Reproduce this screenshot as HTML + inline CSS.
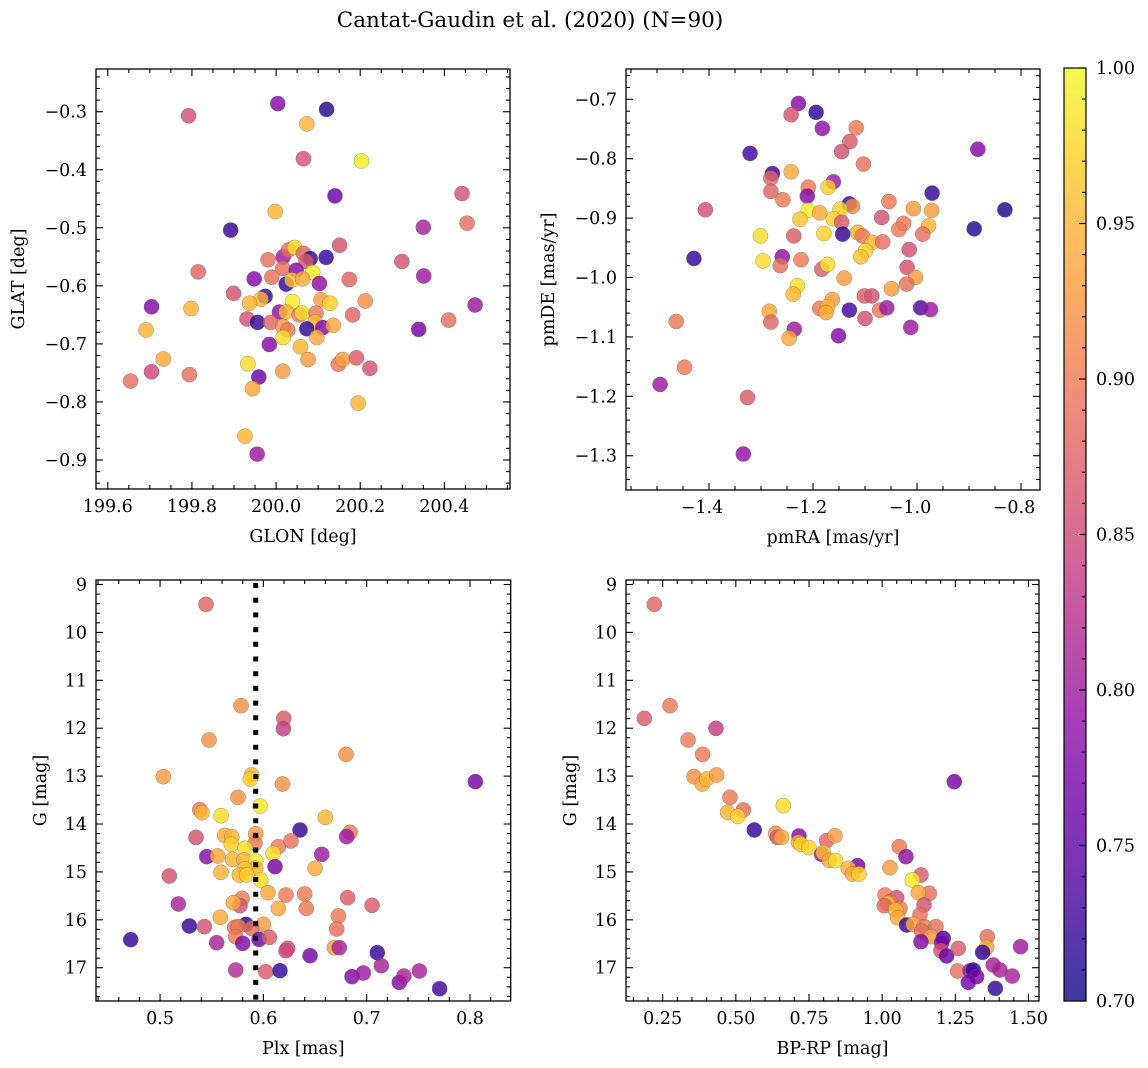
<!DOCTYPE html>
<html><head><meta charset="utf-8"><style>
html,body{margin:0;padding:0;background:#fff;}
svg{display:block;font-family:"DejaVu Serif","Liberation Serif",serif;}
</style></head><body>
<svg id="fig" width="1148" height="1068" viewBox="0 0 1148 1068" xmlns="http://www.w3.org/2000/svg">
<defs>
<linearGradient id="plasma" x1="0" y1="1" x2="0" y2="0">
<stop offset="0" stop-color="#0d0887"/><stop offset="0.1" stop-color="#41049d"/><stop offset="0.2" stop-color="#6a00a8"/><stop offset="0.3" stop-color="#8f0da4"/><stop offset="0.4" stop-color="#b12a90"/><stop offset="0.5" stop-color="#cc4778"/><stop offset="0.6" stop-color="#e16462"/><stop offset="0.7" stop-color="#f2844b"/><stop offset="0.8" stop-color="#fca636"/><stop offset="0.9" stop-color="#fcce25"/><stop offset="1" stop-color="#f0f921"/>
</linearGradient>
</defs>
<text x="530" y="27" font-size="21.5" text-anchor="middle">Cantat-Gaudin et al. (2020) (N=90)</text>
</svg>
<script>
// ---- Panel 1: GLON / GLAT ----
const p1x=[200.004,200.120,199.792,200.073,200.065,200.203,200.140,200.442,199.998,199.892,200.350,200.454,200.151,200.119,200.299,200.351,199.815,199.981,200.017,200.030,200.044,200.065,200.081,200.071,200.016,200.048,200.087,199.948,199.990,200.024,200.038,200.063,200.103,200.174,199.899,199.974,199.964,199.937,200.039,200.107,200.128,200.212,200.008,200.024,200.055,200.062,200.095,199.931,199.956,199.987,200.093,200.016,200.028,200.073,200.111,200.136,200.182,200.017,200.097,199.984,200.058,200.410,200.339,200.473,199.704,199.798,199.691,199.732,199.704,199.794,199.654,199.933,199.959,199.944,200.016,200.076,200.148,200.158,200.191,200.223,200.195,199.926,199.955];
const p1y=[-0.286,-0.296,-0.307,-0.321,-0.381,-0.385,-0.445,-0.441,-0.472,-0.504,-0.499,-0.492,-0.530,-0.551,-0.558,-0.583,-0.576,-0.555,-0.550,-0.538,-0.534,-0.544,-0.553,-0.558,-0.570,-0.573,-0.577,-0.588,-0.585,-0.597,-0.590,-0.588,-0.596,-0.589,-0.613,-0.618,-0.623,-0.630,-0.627,-0.624,-0.630,-0.626,-0.645,-0.645,-0.650,-0.647,-0.647,-0.657,-0.663,-0.663,-0.662,-0.670,-0.676,-0.674,-0.672,-0.668,-0.650,-0.689,-0.689,-0.701,-0.705,-0.659,-0.675,-0.633,-0.636,-0.639,-0.676,-0.726,-0.748,-0.753,-0.764,-0.734,-0.757,-0.777,-0.747,-0.727,-0.735,-0.727,-0.724,-0.742,-0.802,-0.859,-0.890];
const p1c=[0.78,0.71,0.86,0.95,0.86,0.99,0.76,0.86,0.95,0.72,0.81,0.89,0.86,0.72,0.86,0.80,0.88,0.89,0.80,0.89,0.98,0.88,0.72,0.87,0.89,0.78,0.99,0.78,0.89,0.72,0.96,0.94,0.79,0.88,0.86,0.72,0.95,0.95,0.99,0.93,0.97,0.92,0.79,0.95,0.90,0.98,0.90,0.86,0.72,0.88,0.95,0.92,0.90,0.72,0.78,0.94,0.88,0.98,0.94,0.78,0.95,0.89,0.77,0.80,0.78,0.95,0.95,0.94,0.85,0.89,0.89,0.98,0.76,0.94,0.93,0.93,0.90,0.93,0.87,0.86,0.95,0.95,0.80];
const p1xt=["199.6","199.8","200.0","200.2","200.4"];
const p1yt=["−0.3","−0.4","−0.5","−0.6","−0.7","−0.8","−0.9"];
// ---- Panel 2: pmRA / pmDE ----
const p2x=[-1.228,-1.242,-1.194,-1.182,-1.117,-1.129,-1.145,-1.321,-1.103,-0.883,-1.278,-1.281,-1.242,-1.161,-1.171,-1.209,-1.211,-1.281,-1.258,-0.971,-0.831,-1.407,-1.130,-1.124,-1.209,-1.187,-1.148,-1.225,-1.161,-1.145,-1.054,-1.007,-0.972,-1.068,-1.026,-1.035,-0.978,-0.989,-0.890,-1.301,-1.237,-1.179,-1.143,-1.114,-1.105,-1.086,-1.066,-1.015,-1.099,-1.108,-1.296,-1.259,-1.263,-1.223,-1.429,-1.183,-1.172,-1.019,-1.003,-1.020,-1.140,-1.230,-1.238,-1.049,-1.101,-1.087,-1.163,-1.187,-1.172,-1.175,-1.130,-1.072,-1.058,-0.993,-0.974,-1.100,-1.284,-1.281,-1.236,-1.246,-1.151,-1.012,-1.463,-1.447,-1.494,-1.326,-1.334];
const p2y=[-0.707,-0.726,-0.722,-0.749,-0.748,-0.771,-0.788,-0.791,-0.809,-0.784,-0.825,-0.833,-0.822,-0.839,-0.848,-0.848,-0.863,-0.855,-0.869,-0.858,-0.886,-0.886,-0.876,-0.880,-0.887,-0.891,-0.885,-0.902,-0.901,-0.907,-0.872,-0.884,-0.887,-0.899,-0.909,-0.919,-0.913,-0.927,-0.918,-0.930,-0.930,-0.926,-0.927,-0.924,-0.930,-0.941,-0.940,-0.953,-0.955,-0.965,-0.972,-0.965,-0.980,-0.970,-0.968,-0.986,-0.978,-0.983,-1.000,-1.011,-1.001,-1.014,-1.028,-1.019,-1.031,-1.031,-1.037,-1.052,-1.049,-1.059,-1.055,-1.055,-1.051,-1.051,-1.054,-1.069,-1.057,-1.075,-1.087,-1.102,-1.098,-1.084,-1.074,-1.151,-1.180,-1.202,-1.297];
const p2c=[0.78,0.86,0.72,0.79,0.90,0.87,0.86,0.73,0.89,0.78,0.73,0.88,0.94,0.80,0.97,0.90,0.78,0.88,0.90,0.72,0.71,0.86,0.72,0.92,0.99,0.94,0.97,0.96,0.97,0.87,0.90,0.93,0.93,0.86,0.90,0.90,0.95,0.89,0.71,0.98,0.87,0.97,0.72,0.95,0.90,0.95,0.89,0.86,0.97,0.96,0.98,0.79,0.89,0.90,0.72,0.87,0.98,0.86,0.93,0.89,0.93,0.98,0.95,0.93,0.87,0.86,0.93,0.90,0.95,0.94,0.73,0.90,0.80,0.74,0.80,0.86,0.94,0.88,0.80,0.94,0.78,0.80,0.90,0.90,0.80,0.87,0.79];
const p2xt=["−1.4","−1.2","−1.0","−0.8"];
const p2yt=["−0.7","−0.8","−0.9","−1.0","−1.1","−1.2","−1.3"];
// ---- Panel 3: Plx / G ----
const p3x=[0.5445,0.5784,0.6197,0.6194,0.5474,0.680,0.5032,0.5887,0.5874,0.6184,0.8052,0.5755,0.5968,0.5384,0.5406,0.559,0.660,0.6355,0.5348,0.5626,0.5694,0.569,0.5926,0.5919,0.6145,0.6268,0.6839,0.6806,0.5823,0.6094,0.6565,0.5452,0.5558,0.5703,0.5813,0.5926,0.6113,0.5926,0.5819,0.650,0.509,0.559,0.5768,0.5839,0.5974,0.6045,0.6219,0.640,0.6816,0.5794,0.5774,0.571,0.6145,0.6416,0.5177,0.7052,0.6726,0.5584,0.5284,0.5429,0.5832,0.5723,0.5758,0.600,0.5887,0.671,0.5732,0.5958,0.6058,0.4716,0.5548,0.58,0.6235,0.6219,0.6687,0.6735,0.6452,0.7103,0.7142,0.5732,0.6023,0.6161,0.6858,0.6968,0.7316,0.7361,0.751,0.7706];
const p3y=[9.414,11.530,11.794,12.010,12.246,12.546,13.012,12.977,13.061,13.165,13.116,13.443,13.624,13.701,13.763,13.826,13.861,14.125,14.278,14.237,14.265,14.425,14.202,14.404,14.473,14.355,14.174,14.264,14.508,14.612,14.633,14.682,14.668,14.738,14.752,14.772,14.891,14.925,14.939,14.925,15.085,15.009,15.064,15.064,15.169,15.433,15.482,15.461,15.538,15.552,15.705,15.642,15.761,15.761,15.670,15.698,15.921,15.949,16.130,16.143,16.095,16.157,16.143,16.095,16.178,16.192,16.352,16.408,16.366,16.415,16.478,16.492,16.596,16.645,16.582,16.582,16.749,16.686,16.958,17.048,17.083,17.062,17.187,17.111,17.306,17.174,17.069,17.438];
const p3c=[0.88,0.92,0.87,0.84,0.92,0.92,0.93,0.95,0.97,0.92,0.77,0.92,0.99,0.90,0.95,0.98,0.95,0.72,0.86,0.94,0.95,0.97,0.93,0.90,0.90,0.89,0.90,0.80,0.98,0.98,0.80,0.78,0.94,0.95,0.95,0.99,0.77,0.95,0.96,0.94,0.86,0.95,0.95,0.97,0.98,0.94,0.90,0.90,0.87,0.90,0.86,0.94,0.94,0.90,0.81,0.87,0.90,0.94,0.72,0.86,0.72,0.89,0.90,0.93,0.89,0.89,0.90,0.76,0.87,0.72,0.81,0.78,0.86,0.85,0.93,0.81,0.77,0.72,0.81,0.82,0.87,0.72,0.78,0.80,0.78,0.81,0.81,0.73];
const p3xt=["0.5","0.6","0.7","0.8"];
const plxMedian=0.5926;
// ---- Panel 4: BP-RP / G ----
const p4x=[0.2215,0.2751,0.1874,0.4322,0.3366,0.3867,0.3571,0.3855,0.4003,0.4345,1.2466,0.4801,0.6623,0.5256,0.4721,0.5063,0.5632,0.6361,0.6418,0.6566,0.7158,0.7136,0.7227,0.75,0.8104,0.8388,0.7933,0.799,0.8195,0.8411,0.9163,0.8844,0.8981,0.9208,1.0586,1.0814,1.0268,1.1327,1.103,1.1612,1.1236,1.0097,1.0495,1.0268,1.0188,1.0074,1.0609,1.0461,1.053,1.143,1.1293,1.0837,1.1065,1.143,1.135,1.1839,1.1669,1.209,1.1327,1.2033,1.201,1.2204,1.2603,1.3593,1.3571,1.3434,1.4732,1.258,1.3001,1.3115,1.3229,1.2944,1.3798,1.4026,1.4448,1.3867];
const p4y=[9.414,11.530,11.794,12.003,12.246,12.546,13.012,13.165,13.061,12.977,13.116,13.443,13.617,13.708,13.756,13.840,14.125,14.195,14.278,14.278,14.250,14.383,14.425,14.494,14.348,14.244,14.633,14.598,14.758,14.765,14.870,14.925,15.044,15.044,14.473,14.682,14.911,15.064,15.169,15.447,15.433,15.482,15.538,15.621,15.656,15.705,15.761,15.796,15.956,15.691,15.900,16.109,16.095,16.143,16.234,16.143,16.352,16.387,16.457,16.478,16.645,16.756,16.596,16.352,16.575,16.679,16.561,17.069,17.062,17.048,17.187,17.306,16.944,17.048,17.174,17.431];
const p4c=[0.88,0.90,0.87,0.84,0.90,0.90,0.92,0.94,0.95,0.93,0.77,0.90,0.98,0.89,0.95,0.97,0.72,0.92,0.86,0.94,0.78,0.94,0.97,0.97,0.88,0.93,0.79,0.96,0.94,0.98,0.77,0.95,0.94,0.97,0.90,0.79,0.93,0.87,0.99,0.89,0.94,0.90,0.86,0.90,0.95,0.88,0.90,0.95,0.94,0.86,0.89,0.72,0.94,0.90,0.89,0.89,0.93,0.73,0.78,0.77,0.86,0.76,0.87,0.89,0.94,0.72,0.80,0.89,0.80,0.72,0.77,0.77,0.81,0.81,0.81,0.72];
const p4xt=["0.25","0.50","0.75","1.00","1.25","1.50"];
const gTicks=["9","10","11","12","13","14","15","16","17"];
const cbTicks=["0.70","0.75","0.80","0.85","0.90","0.95","1.00"];

const NS="http://www.w3.org/2000/svg";
const svg=document.getElementById('fig');
function mk(tag,attrs,parent){const e=document.createElementNS(NS,tag);for(const k in attrs)e.setAttribute(k,attrs[k]);(parent||svg).appendChild(e);return e;}
const stops=[[0,[13,8,135]],[0.1,[65,4,157]],[0.2,[106,0,168]],[0.3,[143,13,164]],[0.4,[177,42,144]],[0.5,[204,71,120]],[0.6,[225,100,98]],[0.7,[242,132,75]],[0.8,[252,166,54]],[0.9,[252,206,37]],[1,[240,249,33]]];
function plasma(v){let t=(v-0.7)/0.3;t=Math.max(0,Math.min(1,t));for(let i=0;i<stops.length-1;i++){const a=stops[i],b=stops[i+1];if(t<=b[0]){const f=(t-a[0])/(b[0]-a[0]);return 'rgb('+a[1].map((c,j)=>Math.round(c+(b[1][j]-c)*f)).join(',')+')';}}return 'rgb(240,249,33)';}

function panel(cfg){
  const g=mk('g',{});
  
  
  const sx=v=>cfg.L+(v-cfg.x0)/(cfg.x1-cfg.x0)*(cfg.R-cfg.L);
  const sy=v=>cfg.T+(v-cfg.y0)/(cfg.y1-cfg.y0)*(cfg.B-cfg.T);
  const pg=mk('g',{},g);
  
  
  for(let i=0;i<cfg.xs.length;i++){
    const c=mk('circle',{cx:sx(cfg.xs[i]),cy:sy(cfg.ys[i]),r:7.6,fill:plasma(cfg.cs[i]),'fill-opacity':0.82,stroke:'#606060','stroke-opacity':0.6,'stroke-width':0.5},pg);
    
    
  }
  if(cfg.vline!==undefined){
    const l=mk('line',{x1:sx(cfg.vline),x2:sx(cfg.vline),y1:cfg.T+3,y2:cfg.B,stroke:'#000','stroke-width':5,'stroke-dasharray':'5 9.7'},g);
    
    
  }
  const f=mk('rect',{x:cfg.L,y:cfg.T,width:cfg.R-cfg.L,height:cfg.B-cfg.T,fill:'none',stroke:'#000','stroke-width':1.3},g);
  
  
  const tk=mk('g',{stroke:'#000','stroke-width':1.1},g);
  
  
  const xa=Math.min(cfg.x0,cfg.x1),xb=Math.max(cfg.x0,cfg.x1);
  for(let k=Math.ceil(xa/cfg.xmin-1e-6);k*cfg.xmin<=xb+1e-9;k++){
    const v=k*cfg.xmin;const isM=Math.abs(v/cfg.xmaj-Math.round(v/cfg.xmaj))<1e-6;const len=isM?7:4;const X=sx(v);
    mk('line',{x1:X,x2:X,y1:cfg.B,y2:cfg.B-len},tk);mk('line',{x1:X,x2:X,y1:cfg.T,y2:cfg.T+len},tk);
  }
  const ya=Math.min(cfg.y0,cfg.y1),yb=Math.max(cfg.y0,cfg.y1);
  for(let k=Math.ceil(ya/cfg.ymin-1e-6);k*cfg.ymin<=yb+1e-9;k++){
    const v=k*cfg.ymin;const isM=Math.abs(v/cfg.ymaj-Math.round(v/cfg.ymaj))<1e-6;const len=isM?7:4;const Y=sy(v);
    mk('line',{x1:cfg.L,x2:cfg.L+len,y1:Y,y2:Y},tk);mk('line',{x1:cfg.R,x2:cfg.R-len,y1:Y,y2:Y},tk);
  }
  cfg.xt.forEach(s=>{const v=parseFloat(s.replace('−','-'));const t=mk('text',{x:sx(v)-(s[0]==='−'?7:0),y:cfg.B+23,'font-size':17.5,'text-anchor':'middle'},g);t.textContent=s;
    
    });
  cfg.yt.forEach(s=>{const v=parseFloat(s.replace('−','-'));const t=mk('text',{x:cfg.L-9,y:sy(v)+6,'font-size':17.5,'text-anchor':'end'},g);t.textContent=s;
    
    });
  const xl=mk('text',{x:(cfg.L+cfg.R)/2,y:cfg.B+53,'font-size':17.5,'text-anchor':'middle'},g);xl.textContent=cfg.xlabel;
  
  
  const yc=(cfg.T+cfg.B)/2;
  const yl=mk('text',{x:cfg.ylx,y:yc,'font-size':17.5,'text-anchor':'middle',transform:'rotate(-90 '+cfg.ylx+' '+yc+')'},g);yl.textContent=cfg.ylabel;
  
  
}
panel({name:'glon-glat-panel',L:96,R:510,T:69,B:489,x0:199.572,x1:200.556,y0:-0.2264,y1:-0.950,xmaj:0.2,xmin:0.05,ymaj:0.1,ymin:0.02,xs:p1x,ys:p1y,cs:p1c,xt:p1xt,yt:p1yt,xlabel:'GLON [deg]',ylabel:'GLAT [deg]',ylx:24});
panel({name:'proper-motion-panel',L:626,R:1040,T:69,B:490,x0:-1.5596,x1:-0.7635,y0:-0.649,y1:-1.3577,xmaj:0.2,xmin:0.05,ymaj:0.1,ymin:0.02,xs:p2x,ys:p2y,cs:p2c,xt:p2xt,yt:p2yt,xlabel:'pmRA [mas/yr]',ylabel:'pmDE [mas/yr]',ylx:554});
panel({name:'parallax-magnitude-panel',L:96,R:510.7,T:580,B:1001,x0:0.438,x1:0.8394,y0:8.906,y1:17.695,xmaj:0.1,xmin:0.02,ymaj:1,ymin:0.2,xs:p3x,ys:p3y,cs:p3c,xt:p3xt,yt:gTicks,xlabel:'Plx [mas]',ylabel:'G [mag]',ylx:46,vline:plxMedian});
panel({name:'color-magnitude-panel',L:626,R:1039,T:580,B:1001,x0:0.1247,x1:1.536,y0:8.906,y1:17.695,xmaj:0.25,xmin:0.05,ymaj:1,ymin:0.2,xs:p4x,ys:p4y,cs:p4c,xt:p4xt,yt:gTicks,xlabel:'BP-RP [mag]',ylabel:'G [mag]',ylx:576});

const cb=mk('g',{});


const CT=68,CB=1001,CL=1064,CR=1086;
const cbs=v=>CB-(v-0.7)/0.3*(CB-CT);
mk('rect',{x:CL,y:CT,width:CR-CL,height:CB-CT,fill:'url(#plasma)','fill-opacity':0.8},cb);
mk('rect',{x:CL,y:CT,width:CR-CL,height:CB-CT,fill:'none',stroke:'#000','stroke-width':1.2},cb);
for(let k=70;k<=100;k++){const Y=cbs(k/100);const M=k%5===0;mk('line',{x1:CR,x2:CR-(M?7:4),y1:Y,y2:Y,stroke:'#000','stroke-width':1.1},cb);}
cbTicks.forEach(s=>{const t=mk('text',{x:1096,y:cbs(parseFloat(s))+6,'font-size':17.5},cb);t.textContent=s;
  
  });
</script>
</body></html>
